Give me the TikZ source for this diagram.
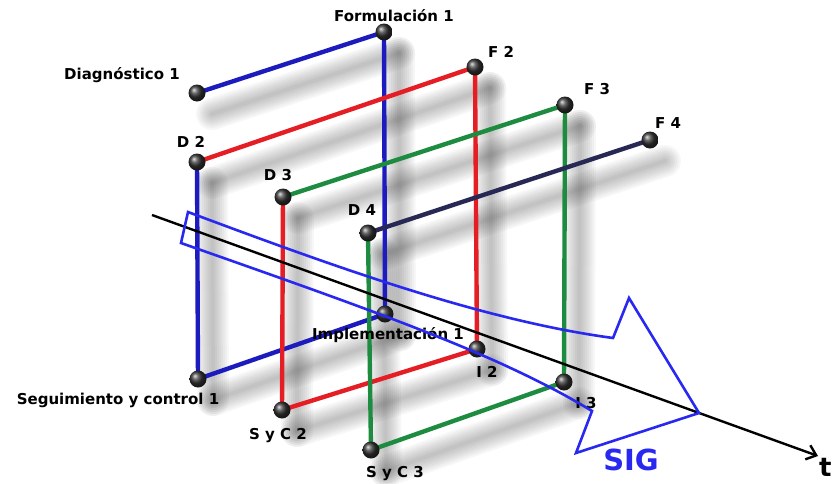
\documentclass[tikz,border=0pt]{standalone}
\usepackage{fontspec}
\setmainfont{DejaVu Sans}
\usetikzlibrary{arrows.meta}

\definecolor{cblue}{RGB}{28,28,190}
\definecolor{cred}{RGB}{228,30,36}
\definecolor{cgreen}{RGB}{30,140,64}
\definecolor{cnavy}{RGB}{40,40,85}
\definecolor{csig}{RGB}{40,40,240}

\pgfdeclarelayer{shadow}
\pgfdeclarelayer{lines}
\pgfsetlayers{shadow,lines,main}

\begin{document}
\begin{tikzpicture}[x=1pt,y=-1pt,
        elt/.style={circle,inner sep=0pt,minimum size=17pt,shading=ball,ball color=black!80},
        bar/.style={line width=4.4pt},
        dropline/.style={draw=black,line width=#1,opacity=0.03,line cap=round,
                         transform canvas={shift={(15,21)}}},
        lab/.style={font=\bfseries\fontsize{15}{15}\selectfont,anchor=base}]

      \useasboundingbox (0,0) rectangle (836,483);

      \node[elt] (d1) at (197,93)  {};                                  % Diagnostico 1
      \node[elt] (f1) at (384,32)  {};
      \node[elt] (i1) at (385,314) {};
      \node[elt] (s1) at (198,379) {};
      \node[elt] (d2) at (197,162) {};
      \node[elt] (f2) at (475,67)  {};
      \node[elt] (i2) at (477,349) {};
      \node[elt] (s2) at (282,410) {};
      \node[elt] (d3) at (283,197) {};
      \node[elt] (f3) at (565,105) {};
      \node[elt] (i3) at (564,382) {};
      \node[elt] (s3) at (371,450) {};
      \node[elt] (d4) at (368,233) {};
      \node[elt] (f4) at (650,140) {};

      \begin{pgfonlayer}{shadow}
        \fill[white] (0,0) rectangle (836,483);
        \foreach \a/\b in {d1/f1,f1/i1,i1/s1,s1/d2,d2/f2,f2/i2,i2/s2,s2/d3,
                           d3/f3,f3/i3,i3/s3,s3/d4,d4/f4}
          \foreach \w in {32,28,24,20,16,12,8,4}
            \draw[dropline=\w pt] (\a.center) -- (\b.center);
      \end{pgfonlayer}

      \begin{pgfonlayer}{lines}
        \draw[bar,cblue]  (d1.center) -- (f1.center) -- (i1.center) -- (s1.center) -- (d2.center); % ciclo 1
        \draw[bar,cred]   (d2.center) -- (f2.center) -- (i2.center) -- (s2.center) -- (d3.center); % ciclo 2
        \draw[bar,cgreen] (d3.center) -- (f3.center) -- (i3.center) -- (s3.center) -- (d4.center); % ciclo 3
        \draw[bar,cnavy]  (d4.center) -- (f4.center);
      \end{pgfonlayer}

      \node[lab] (ld1) at (122,79)  {Diagnóstico 1};
      \node[lab] (lf1) at (394,21)  {Formulación 1};
      \node[lab] (ld2) at (191,147) {D 2};
      \node[lab] (lf2) at (501,57)  {F 2};
      \node[lab] (ld3) at (278,180) {D 3};
      \node[lab] (lf3) at (597,94)  {F 3};
      \node[lab] (ld4) at (362,215) {D 4};
      \node[lab] (lf4) at (668,128) {F 4};
      \node[lab] (li1) at (388,339) {Implementación 1};
      \node[lab] (li2) at (487,377) {I 2};
      \node[lab] (li3) at (586,408) {I 3};
      \node[lab] (ls1) at (118,404) {Seguimiento y control 1};
      \node[lab] (ls2) at (278,439) {S y C 2};
      \node[lab] (ls3) at (395,477) {S y C 3};

      % eje del tiempo
      \coordinate (tstart) at (152,215);
      \coordinate (tend)   at (818,456);
      \draw[line width=2.4pt,-{Straight Barb[length=9pt,width=15pt]}] (tstart) -- (tend);
      \node[font=\bfseries\fontsize{26}{26}\selectfont,anchor=base west,inner sep=0pt] (tlab) at (819,476) {t};

      % flecha SIG
      \draw[csig,line width=2.6pt,line join=miter]
        (188,212) .. controls (330,265) and (480,320) .. (613,338) -- (629,298) -- (699,413)
        -- (576,453) -- (592,411) .. controls (500,355) and (380,313) .. (181,243) -- cycle;
      \node[font=\bfseries\fontsize{29}{29}\selectfont,text=csig,anchor=base] (sig) at (631,470) {SIG};
    \end{tikzpicture}
\end{document}
